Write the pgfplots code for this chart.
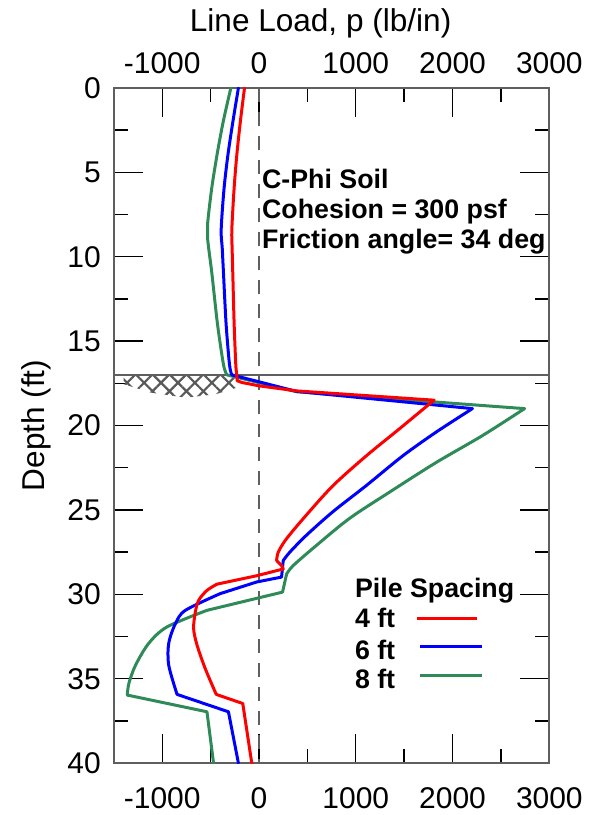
\documentclass[border=0pt]{standalone}
\usepackage{fontspec}
\setmainfont{Liberation Sans}
\usepackage{pgfplots}
\pgfplotsset{compat=1.18}
\usetikzlibrary{patterns.meta}
\definecolor{cred}{RGB}{255,0,0}
\definecolor{cblue}{RGB}{0,0,255}
\definecolor{cgreen}{RGB}{46,139,87}
\definecolor{axgray}{RGB}{95,95,95}
\begin{document}
\begin{tikzpicture}
\pgfplotsset{
 common/.style={
  scale only axis, width=218pt, height=338pt,
  xmin=-1500, xmax=3000, ymin=0, ymax=40,
  xtick={-1000,0,1000,2000,3000},
  minor xtick={-500,500,1500,2500},
  ytick={0,5,...,40},
  minor ytick={2.5,7.5,...,37.5},
  tick align=inside,
  major tick length=14.5pt, minor tick length=7pt,
  /pgf/number format/assume math mode=true,
  /pgf/number format/1000 sep={},
  tick label style={font=\fontsize{15}{18}\selectfont},
 },
 ser/.style={#1, line width=1.5pt, line join=round, line cap=round, forget plot},
}
\begin{axis}[common, name=main, y dir=reverse,
  axis line style={axgray, line width=1pt},
  tick style={black, line width=0.7pt},
  xticklabel pos=left,
  xticklabel style={yshift=-8.5pt},
  yticklabel style={xshift=-3pt},
  every axis y label/.style={at={(rel axis cs:0,0.5)}, rotate=90, anchor=center, yshift=39pt, font=\fontsize{15.8}{18}\selectfont},
  ylabel={Depth (ft)},
]
% hatched soil region
\addplot[draw=none, pattern={Hatch[angle=45, distance=6pt, line width=1.1pt]}, pattern color=gray!70!black] coordinates {
 (-1400,17.05) (-195,17.05) (-195,17.7) (-450,18.15) (-760,18.35) (-1120,18.05) (-1400,17.55) (-1400,17.05)};
% reference lines
\addplot[axgray, line width=0.8pt] coordinates {(-1500,17) (3000,17)};
\addplot[axgray, line width=0.9pt, dash pattern=on 7pt off 5pt] coordinates {(0,0) (0,40)};
% ---- 8 ft ----
\addplot[ser=cgreen, smooth] coordinates {(-291,0) (-370,2) (-435,4) (-490,6) (-532,8.1) (-530,9) (-487,11) (-429,14) (-367,16.4) (-332,17)};
\addplot[ser=cgreen] coordinates {(-332,17) (388,18) (2744,19)};
\addplot[ser=cgreen, smooth] coordinates {(2744,19) (2308,20.6) (1828,22.2) (1348,23.95) (936,25.5) (594,27.1) (353,28.3) (285,28.8)};
\addplot[ser=cgreen] coordinates {(285,28.8) (243,29.87) (-538,30.95)};
\addplot[ser=cgreen, smooth] coordinates {(-538,30.95) (-950,31.93) (-1139,32.9) (-1276,34.2) (-1345,35.28) (-1361,35.97)};
\addplot[ser=cgreen] coordinates {(-1361,35.97) (-538,36.96) (-470,40)};
% ---- 6 ft ----
\addplot[ser=cblue, smooth] coordinates {(-213,0) (-270,2) (-322,4) (-362,6) (-391,8.4) (-380,9.5) (-367,11) (-340,14) (-305,16.4) (-281,17)};
\addplot[ser=cblue] coordinates {(-281,17) (388,17.98) (2205,19.0)};
\addplot[ser=cblue, smooth] coordinates {(2205,19.0) (1828,20.4) (1485,21.8) (1108,23.56) (765,25.1) (490,26.5) (319,27.5) (250,28.0)};
\addplot[ser=cblue] coordinates {(250,28.0) (233,28.98) (-24,29.27) (-401,29.96)};
\addplot[ser=cblue, smooth] coordinates {(-401,29.96) (-761,30.95) (-864,31.74) (-933,32.9) (-933,34.2) (-847,35.93)};
\addplot[ser=cblue] coordinates {(-847,35.93) (-316,36.96) (-213,40)};
% ---- 4 ft ----
\addplot[ser=cred, smooth] coordinates {(-150,0) (-193,2) (-230,4) (-258,6) (-281,8.4) (-278,9.5) (-271,11) (-257,14) (-240,16.4) (-230,17)};
\addplot[ser=cred] coordinates {(-230,17) (-225,17.35) (-178,17.45) (0,17.65) (388,17.95) (1810,18.5) (1760,18.73)};
\addplot[ser=cred, smooth] coordinates {(1760,18.73) (1450,20.2) (1108,21.8) (765,23.56) (490,25.3) (285,26.7) (199,27.5) (182,28.0)};
\addplot[ser=cred] coordinates {(182,28.0) (233,28.3) (250,28.5) (-24,28.9) (-435,29.4)};
\addplot[ser=cred, smooth] coordinates {(-435,29.4) (-538,29.77) (-624,30.36) (-658,31.05) (-676,32.03) (-641,33.0) (-556,34.4) (-442,35.93)};
\addplot[ser=cred] coordinates {(-442,35.93) (-168,36.47) (-75,40)};
% annotation
\node[anchor=base west, font=\bfseries\fontsize{13.4}{15}\selectfont, inner sep=0pt] at (axis cs:28,5.93) {C-Phi Soil};
\node[anchor=base west, font=\bfseries\fontsize{13.4}{15}\selectfont, inner sep=0pt] at (axis cs:28,7.71) {Cohesion = 300 psf};
\node[anchor=base west, font=\bfseries\fontsize{13.4}{15}\selectfont, inner sep=0pt] at (axis cs:28,9.49) {Friction angle= 34 deg};
% legend
\node[anchor=base west, font=\bfseries\fontsize{13.4}{15}\selectfont, inner sep=0pt] at (axis cs:988,30.2) {Pile Spacing};
\node[anchor=base west, font=\bfseries\fontsize{13.4}{15}\selectfont, inner sep=0pt] at (axis cs:988,31.97) {4 ft};
\node[anchor=base west, font=\bfseries\fontsize{13.4}{15}\selectfont, inner sep=0pt] at (axis cs:988,33.85) {6 ft};
\node[anchor=base west, font=\bfseries\fontsize{13.4}{15}\selectfont, inner sep=0pt] at (axis cs:988,35.6) {8 ft};
\draw[cred, line width=1.5pt] (axis cs:1629,31.44) -- (axis cs:2256,31.44);
\draw[cblue, line width=1.5pt] (axis cs:1667,33.1) -- (axis cs:2308,33.1);
\draw[cgreen, line width=1.5pt] (axis cs:1667,34.83) -- (axis cs:2308,34.83);
\end{axis}
\begin{axis}[common, at={(main.south west)}, anchor=south west,
  hide y axis, axis line style={draw=none}, tick style={draw=none},
  xticklabel pos=right,
  xticklabel style={yshift=3.5pt},
  every axis x label/.style={at={(rel axis cs:0.5,1)}, anchor=base, yshift=28pt, xshift=-5.5pt, font=\fontsize{15.8}{18}\selectfont},
  xlabel={Line Load, p (lb/in)},
]
\addplot[draw=none] coordinates {(0,0)};
\end{axis}
\path (main.south west) ++(-57pt,-25.5pt);
\path (main.north east) ++(26pt,44pt);
\end{tikzpicture}
\end{document}
